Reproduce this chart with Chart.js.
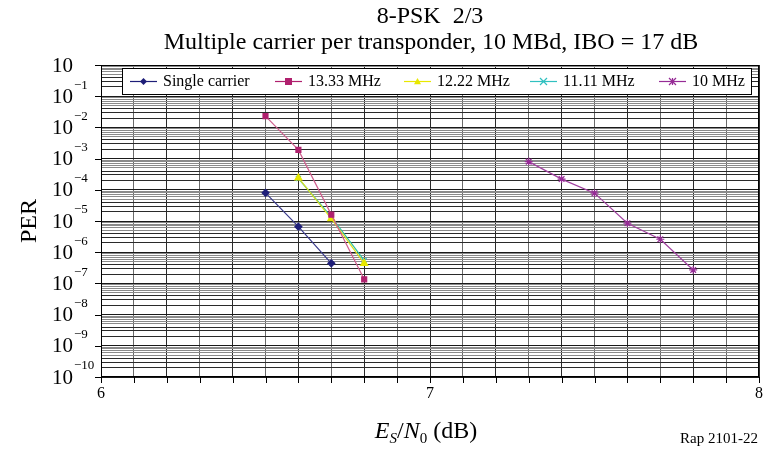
<!DOCTYPE html>
<html>
<head>
<meta charset="utf-8">
<script src="https://cdn.jsdelivr.net/npm/chart.js@4/dist/chart.umd.min.js"></script>
<style>
  html, body { margin: 0; padding: 0; background: #fff; }
  #wrap { width: 770px; height: 451px; position: relative; }
</style>
</head>
<body>
<div id="wrap"><canvas id="c" width="770" height="451"></canvas></div>
<script>
// Es/N0 (dB) sample points and measured packet error rates per configuration
const esn0Single = [6.5, 6.6, 6.7];
const perSingle  = [8e-5, 6.6e-6, 4.4e-7];

const esn0_1333 = [6.5, 6.6, 6.7, 6.8];
const per_1333  = [2.3e-2, 1.9e-3, 1.6e-5, 1.35e-7];

const esn0_1222 = [6.6, 6.7, 6.8];
const per_1222  = [2.4e-4, 1.2e-5, 4.4e-7];

const esn0_1111 = [6.6, 6.7, 6.8];
const per_1111  = [2.3e-4, 1.35e-5, 5.5e-7];

const esn0_10 = [7.3, 7.4, 7.5, 7.6, 7.7, 7.8];
const per_10  = [8e-4, 2.2e-4, 7.8e-5, 8.5e-6, 2.6e-6, 2.7e-7];

const seriesLabels = ['Single carrier', '13.33 MHz', '12.22 MHz', '11.11 MHz', '10 MHz'];

// Axis ranges and labelled ticks
const xMin = 6, xMax = 8, xStep = 0.1;
const xLabels = [6, 7, 8];
const yMinExp = -10, yMaxExp = 0;
const yTickLabels = ['10', '10|−1', '10|−2', '10|−3', '10|−4', '10|−5', '10|−6', '10|−7', '10|−8', '10|−9', '10|−10'];

const toPoints = (xs, ys) => xs.map((x, i) => ({ x: x, y: ys[i] }));

const styles = [
  { color: '#1e1e78', line: '#3a3a8c', point: 'rectRot', r: 3.5 },
  { color: '#b0206e', line: '#d0608f', point: 'rect', r: 3.5 },
  { color: '#e8e800', line: '#e0e020', point: 'triangle', r: 4 },
  { color: '#30c0c0', line: '#30c0a0', point: 'crossRot', r: 3.5 },
  { color: '#962c96', line: '#a040a0', point: 'star', r: 4 }
];
const seriesData = [
  toPoints(esn0Single, perSingle),
  toPoints(esn0_1333, per_1333),
  toPoints(esn0_1222, per_1222),
  toPoints(esn0_1111, per_1111),
  toPoints(esn0_10, per_10)
];

const datasets = seriesData.map((d, i) => ({
  label: seriesLabels[i],
  data: d,
  borderColor: styles[i].line,
  backgroundColor: styles[i].color,
  pointBorderColor: styles[i].color,
  pointBackgroundColor: styles[i].color,
  pointStyle: styles[i].point,
  pointRadius: styles[i].r,
  pointBorderWidth: 1.2,
  borderWidth: 1.2,
  tension: 0,
  fill: false
}));

const SERIF = '"Liberation Serif", "Times New Roman", serif';

function drawMarker(ctx, style, x, y, r, color) {
  ctx.save();
  ctx.fillStyle = color;
  ctx.strokeStyle = color;
  ctx.lineWidth = 1.2;
  ctx.beginPath();
  if (style === 'rectRot') {
    ctx.moveTo(x, y - r); ctx.lineTo(x + r, y); ctx.lineTo(x, y + r); ctx.lineTo(x - r, y); ctx.closePath(); ctx.fill();
  } else if (style === 'rect') {
    ctx.rect(x - r, y - r, 2 * r, 2 * r); ctx.fill();
  } else if (style === 'triangle') {
    ctx.moveTo(x, y - r); ctx.lineTo(x + r, y + r * 0.8); ctx.lineTo(x - r, y + r * 0.8); ctx.closePath(); ctx.fill();
  } else if (style === 'crossRot') {
    ctx.moveTo(x - r, y - r); ctx.lineTo(x + r, y + r); ctx.moveTo(x + r, y - r); ctx.lineTo(x - r, y + r); ctx.stroke();
  } else {
    ctx.moveTo(x - r, y - r); ctx.lineTo(x + r, y + r); ctx.moveTo(x + r, y - r); ctx.lineTo(x - r, y + r);
    ctx.moveTo(x, y - r); ctx.lineTo(x, y + r); ctx.stroke();
  }
  ctx.restore();
}

const decor = {
  id: 'decor',
  beforeDraw(chart) {
    const ctx = chart.ctx;
    ctx.save();
    ctx.fillStyle = '#fff';
    ctx.fillRect(0, 0, chart.width, chart.height);
    ctx.restore();
  },
  afterDraw(chart) {
    const ctx = chart.ctx;
    const a = chart.chartArea;
    const xs = chart.scales.x, ys = chart.scales.y;
    ctx.save();

    // plot frame
    ctx.strokeStyle = '#000';
    ctx.lineWidth = 1;
    ctx.strokeRect(a.left + 0.5, a.top + 0.5, a.right - a.left - 1, a.bottom - a.top - 1);

    // x tick marks and labels
    ctx.beginPath();
    for (let k = 0; k <= Math.round((xMax - xMin) / xStep); k++) {
      const px = Math.round(xs.getPixelForValue(xMin + k * xStep)) + 0.5;
      ctx.moveTo(px, a.bottom); ctx.lineTo(px, a.bottom + 6);
    }
    ctx.stroke();
    ctx.fillStyle = '#000';
    ctx.font = '16px ' + SERIF;
    ctx.textAlign = 'center';
    ctx.textBaseline = 'middle';
    xLabels.forEach(v => ctx.fillText(String(v), xs.getPixelForValue(v), a.bottom + 17));

    // y tick marks and labels (decades)
    ctx.beginPath();
    for (let e = yMinExp; e <= yMaxExp; e++) {
      const py = Math.round(ys.getPixelForValue(Math.pow(10, e))) + 0.5;
      ctx.moveTo(a.left - 6, py); ctx.lineTo(a.left, py);
    }
    ctx.stroke();
    ctx.textAlign = 'left';
    yTickLabels.forEach((lab, i) => {
      const e = yMaxExp - i;
      const py = ys.getPixelForValue(Math.pow(10, e));
      const parts = lab.split('|');
      ctx.font = '21px ' + SERIF;
      ctx.textBaseline = 'middle';
      ctx.fillText(parts[0], 52, py + 1);
      if (parts[1]) {
        const w = ctx.measureText(parts[0]).width;
        ctx.font = '13px ' + SERIF;
        ctx.fillText(parts[1], 52 + w + 1, py - 11);
      }
    });

    // y axis title
    ctx.save();
    ctx.translate(30, 221);
    ctx.rotate(-Math.PI / 2);
    ctx.font = '24px ' + SERIF;
    ctx.textAlign = 'center';
    ctx.textBaseline = 'middle';
    ctx.fillText('PER', 0, 0);
    ctx.restore();

    // x axis title: E_S/N_0 (dB)
    const pieces = [
      { t: 'E', f: 'italic 24px ' + SERIF, dy: 0 },
      { t: 'S', f: 'italic 15px ' + SERIF, dy: 5 },
      { t: '/', f: '24px ' + SERIF, dy: 0 },
      { t: 'N', f: 'italic 24px ' + SERIF, dy: 0 },
      { t: '0', f: '15px ' + SERIF, dy: 5 },
      { t: ' (dB)', f: '24px ' + SERIF, dy: 0 }
    ];
    let total = 0;
    pieces.forEach(p => { ctx.font = p.f; p.w = ctx.measureText(p.t).width; total += p.w; });
    let cx = 426 - total / 2;
    ctx.textAlign = 'left';
    ctx.textBaseline = 'alphabetic';
    pieces.forEach(p => { ctx.font = p.f; ctx.fillText(p.t, cx, 438 + p.dy); cx += p.w; });

    // figure reference
    ctx.font = '15px ' + SERIF;
    ctx.textAlign = 'right';
    ctx.fillText('Rap 2101-22', 758, 443);

    // titles
    ctx.font = '24px ' + SERIF;
    ctx.textAlign = 'center';
    ctx.textBaseline = 'middle';
    ctx.fillText('8-PSK  2/3', 430, 17);
    ctx.fillText('Multiple carrier per transponder, 10 MBd, IBO = 17 dB', 431, 43);

    // legend box
    const lx0 = 122, ly0 = 68, lx1 = 752, ly1 = 95;
    ctx.fillStyle = '#fff';
    ctx.fillRect(lx0, ly0, lx1 - lx0, ly1 - ly0);
    ctx.strokeStyle = '#000';
    ctx.lineWidth = 1;
    ctx.strokeRect(lx0 + 0.5, ly0 + 0.5, lx1 - lx0 - 1, ly1 - ly0 - 1);
    const lineStarts = [130, 275, 404, 530, 659];
    const ly = (ly0 + ly1) / 2;
    ctx.font = '16px ' + SERIF;
    ctx.textAlign = 'left';
    ctx.textBaseline = 'middle';
    chart.data.datasets.forEach((ds, i) => {
      const x0 = lineStarts[i];
      ctx.strokeStyle = styles[i].color;
      ctx.lineWidth = 1.2;
      ctx.beginPath(); ctx.moveTo(x0, ly); ctx.lineTo(x0 + 27, ly); ctx.stroke();
      drawMarker(ctx, styles[i].point, x0 + 13.5, ly, 3.5, styles[i].color);
      ctx.fillStyle = '#000';
      ctx.fillText(ds.label, x0 + 33, ly);
    });

    ctx.restore();
  }
};

// minor ticks 1..9 x 10^n for the log axis grid
const logTicks = [];
for (let e = yMinExp; e < yMaxExp; e++) {
  for (let m = 1; m <= 9; m++) logTicks.push(m * Math.pow(10, e));
}
logTicks.push(Math.pow(10, yMaxExp));

// mantissa of a log tick (1..9)
const mantissa = v => Math.round(v / Math.pow(10, Math.floor(Math.log10(v) + 1e-9)));

new Chart(document.getElementById('c'), {
  type: 'line',
  data: { datasets: datasets },
  options: {
    responsive: false,
    animation: false,
    devicePixelRatio: 1,
    layout: { padding: { left: 101, right: 11, top: 65, bottom: 74 } },
    plugins: { legend: { display: false }, title: { display: false }, tooltip: { enabled: false } },
    scales: {
      x: {
        type: 'linear',
        min: xMin, max: xMax,
        afterBuildTicks: s => {
          const t = [];
          for (let k = 0; k <= Math.round((xMax - xMin) / xStep); k++) t.push({ value: +(xMin + k * xStep).toFixed(2) });
          s.ticks = t;
        },
        ticks: { display: false },
        grid: {
          color: c => (c.index % 2 === 0 ? '#2a2a2a' : '#6a6a6a'),
          lineWidth: 1, drawTicks: false
        },
        border: { display: false }
      },
      y: {
        type: 'logarithmic',
        min: Math.pow(10, yMinExp), max: Math.pow(10, yMaxExp),
        afterBuildTicks: s => { s.ticks = logTicks.map(v => ({ value: v })); },
        ticks: { display: false },
        grid: {
          color: c => {
            const m = c.tick ? mantissa(c.tick.value) : 1;
            if (m === 1) return '#1a1a1a';
            return m >= 5 ? '#8a8a8a' : '#2a2a2a';
          },
          lineWidth: 1, drawTicks: false
        },
        border: { display: false }
      }
    }
  },
  plugins: [decor]
});
</script>
</body>
</html>
